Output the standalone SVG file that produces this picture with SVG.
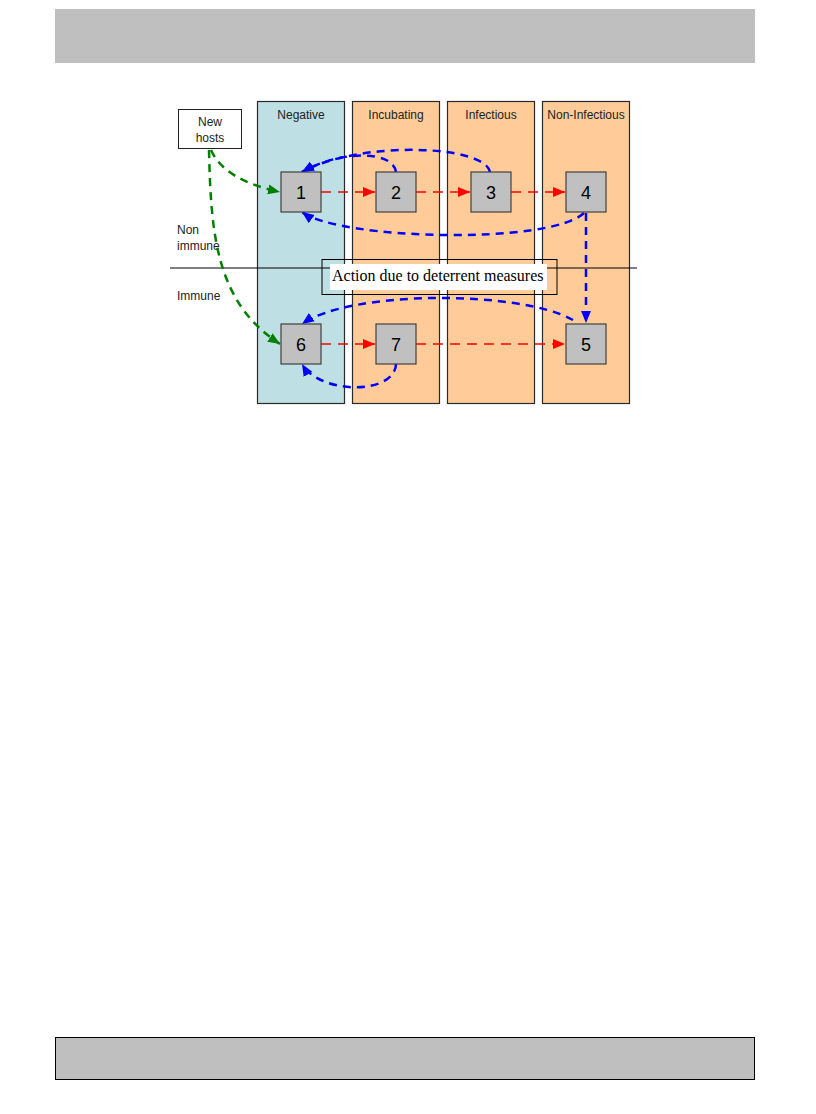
<svg xmlns="http://www.w3.org/2000/svg" width="816" height="1114" viewBox="0 0 816 1114">
<style>
.col{stroke:#2a2a2a;stroke-width:1.2}
.neg{fill:#BEDFE3}
.peach{fill:#FFCC99}
.node{fill:#C0C0C0;stroke:#404040;stroke-width:1.2}
.num{font-family:"Liberation Sans",Arial,sans-serif;font-size:18px;fill:#000;text-anchor:middle}
.hd{font-family:"Liberation Sans",Arial,sans-serif;font-size:12px;fill:#222;text-anchor:middle}
.lbl{font-family:"Liberation Sans",Arial,sans-serif;font-size:12px;fill:#222}
.red{fill:none;stroke:#FF0000;stroke-width:1.6;stroke-dasharray:10 7}
.blue{fill:none;stroke:#0000FF;stroke-width:2.5;stroke-dasharray:8 6}
.green{fill:none;stroke:#008000;stroke-width:2.5;stroke-dasharray:8 6}
</style>
<defs>
<marker id="ar" markerUnits="userSpaceOnUse" markerWidth="14" markerHeight="14" refX="12" refY="6" orient="auto"><path d="M0,1 L12,6 L0,11 Z" fill="#FF0000"/></marker>
<marker id="ab" markerUnits="userSpaceOnUse" markerWidth="14" markerHeight="14" refX="12" refY="6" orient="auto"><path d="M0,1 L12,6 L0,11 Z" fill="#0000FF"/></marker>
<marker id="ag" markerUnits="userSpaceOnUse" markerWidth="14" markerHeight="14" refX="12" refY="6" orient="auto"><path d="M0,1 L12,6 L0,11 Z" fill="#008000"/></marker>
</defs>
<rect x="55" y="9" width="700" height="54" fill="#BFBFBF"/>
<rect x="55.5" y="1037.5" width="699" height="42" fill="#BFBFBF" stroke="#000" stroke-width="1"/>
<g id="columns">
<rect class="col neg" x="257.5" y="101.5" width="87" height="302"/>
<rect class="col peach" x="352.5" y="101.5" width="87" height="302"/>
<rect class="col peach" x="447.5" y="101.5" width="87" height="302"/>
<rect class="col peach" x="542.5" y="101.5" width="87" height="302"/>
<text class="hd" x="301" y="119">Negative</text>
<text class="hd" x="396" y="119">Incubating</text>
<text class="hd" x="491" y="119">Infectious</text>
<text class="hd" x="586" y="119">Non-Infectious</text>
</g>
<line x1="170" y1="268" x2="637" y2="268" stroke="#000" stroke-width="1"/>
<g id="labels">
<text class="lbl" x="177" y="234">Non</text>
<text class="lbl" x="177" y="250">immune</text>
<text class="lbl" x="177" y="300">Immune</text>
</g>
<g id="action">
<rect x="330" y="264" width="217" height="26" fill="#fff"/>
<rect x="322" y="259.5" width="235" height="35" fill="none" stroke="#000" stroke-width="1"/>
<text x="332" y="281" font-family="'Liberation Serif','Times New Roman',serif" font-size="16" fill="#000">Action due to deterrent measures</text>
</g>
<g id="new-hosts">
<rect x="178.5" y="109.5" width="63" height="39" fill="#fff" stroke="#222" stroke-width="1"/>
<text class="hd" x="210" y="126">New</text>
<text class="hd" x="210" y="142">hosts</text>
</g>
<g id="connectors">
<path class="green" d="M211 150 Q224 180 280 192" marker-end="url(#ag)"/>
<path class="green" d="M209 150 C211 232 215 302 280 344" marker-end="url(#ag)"/>
<path class="red" d="M321 192 L375 192" marker-end="url(#ar)"/>
<path class="red" d="M416 192 L470 192" marker-end="url(#ar)"/>
<path class="red" d="M511 192 L565 192" marker-end="url(#ar)"/>
<path class="red" d="M321 344 L375 344" marker-end="url(#ar)"/>
<path class="red" d="M416 344 L565 344" marker-end="url(#ar)"/>
<path class="blue" d="M490 172 C485 145 360 140 302 172" marker-end="url(#ab)"/>
<path class="blue" d="M396 172 C393 150 340 150 302 172" marker-end="url(#ab)"/>
<path class="blue" d="M584 213 C550 245 340 240 302 212" marker-end="url(#ab)"/>
<path class="blue" d="M586 213 L586 323" marker-end="url(#ab)"/>
<path class="blue" d="M573 320 C520 290 350 290 302 324" marker-end="url(#ab)"/>
<path class="blue" d="M396 364 C395 395 320 395 302 364" marker-end="url(#ab)"/>
</g>
<g id="node1"><rect class="node" x="281" y="172" width="40" height="40"/><text class="num" x="301" y="199">1</text></g>
<g id="node2"><rect class="node" x="376" y="172" width="40" height="40"/><text class="num" x="396" y="199">2</text></g>
<g id="node3"><rect class="node" x="471" y="172" width="40" height="40"/><text class="num" x="491" y="199">3</text></g>
<g id="node4"><rect class="node" x="566" y="172" width="40" height="40"/><text class="num" x="586" y="199">4</text></g>
<g id="node5"><rect class="node" x="566" y="324" width="40" height="40"/><text class="num" x="586" y="351">5</text></g>
<g id="node6"><rect class="node" x="281" y="324" width="40" height="40"/><text class="num" x="301" y="351">6</text></g>
<g id="node7"><rect class="node" x="376" y="324" width="40" height="40"/><text class="num" x="396" y="351">7</text></g>
</svg>
